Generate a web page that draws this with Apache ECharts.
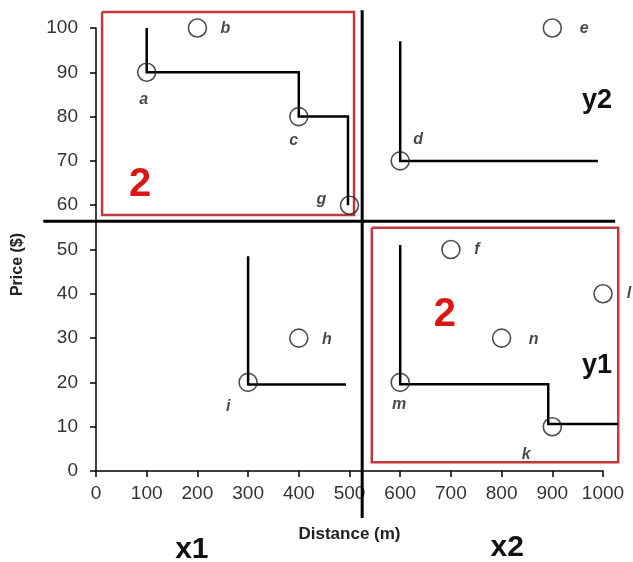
<!DOCTYPE html>
<html>
<head>
<meta charset="utf-8">
<script src="https://cdn.jsdelivr.net/npm/echarts@6/dist/echarts.min.js"></script>
<style>
html,body{margin:0;padding:0;background:#fff;}
#chart{width:633px;height:562px;}
</style>
</head>
<body>
<div id="chart"></div>
<script>
// ---- data ----
const xTicks = [0, 100, 200, 300, 400, 500, 600, 700, 800, 900, 1000];
const yTicks = [0, 10, 20, 30, 40, 50, 60, 70, 80, 90, 100];
const pointNames = ['a', 'b', 'c', 'g', 'd', 'e', 'f', 'h', 'i', 'l', 'n', 'm', 'k'];
const pointX     = [100, 200, 400, 500, 600, 900, 700, 400, 300, 1000, 800, 600, 900];
const pointY     = [90, 100, 80, 60, 70, 100, 50, 30, 20, 40, 30, 20, 10];

const stepA = [[100, 100], [100, 90], [400, 90], [400, 80], [497, 80], [497, 60]];
const stepD = [[600, 97], [600, 70], [990, 70]];
const stepI = [[300, 48.5], [300, 19.5], [493, 19.5]];
const stepM = [[600, 51], [600, 19.6], [892, 19.6], [892, 10.6], [1030, 10.6]];

const dividerV = [[525, 104], [525, -10.6]];
const dividerH = [[-104, 56.4], [1024, 56.4]];

const boxTopLeft = [12, 103.6, 509, 57.8];     // x1, yTop, x2, yBottom
const boxBottomRight = [544, 54.9, 1030, 2];

const quadrantLabels = ['x1', 'x2', 'y1', 'y2'];
const quadrantX = [189, 811, 988, 988];
const quadrantY = [-17.8, -17.4, 23.9, 83.7];
const boxLabels = ['2', '2'];
const boxLabelX = [87, 688];
const boxLabelY = [64.6, 35.2];

// ---- styling ----
const labelOffsets = {
  a: [-3, 27], b: [28, 1], c: [-5, 24], g: [-28, -6], d: [18, -21],
  e: [32, 1], f: [26, 0], h: [28, 1], i: [-20, 24], l: [26, 0],
  n: [32, 1], m: [-1, 22], k: [-26, 28]
};

function rect(b) {
  return [[b[0], b[1]], [b[2], b[1]], [b[2], b[3]], [b[0], b[3]], [b[0], b[1]]];
}
function polySeries(pts, color, width, z) {
  return {
    type: 'custom', clip: false, silent: true, z: z,
    data: [0],
    renderItem: function (params, api) {
      return {
        type: 'polyline',
        shape: { points: pts.map(p => api.coord(p)) },
        style: { stroke: color, lineWidth: width, fill: null, lineJoin: 'miter' }
      };
    }
  };
}
function textSeries(texts, xs, ys, font, color, z) {
  return {
    type: 'custom', clip: false, silent: true, z: z,
    data: texts.map((t, i) => [xs[i], ys[i]]),
    renderItem: function (params, api) {
      const c = api.coord([api.value(0), api.value(1)]);
      const t = texts[params.dataIndex];
      return {
        type: 'text', x: c[0], y: c[1],
        style: { text: t, font: typeof font === 'function' ? font(t) : font,
                 fill: color, align: 'center', verticalAlign: 'middle' }
      };
    }
  };
}

const chart = echarts.init(document.getElementById('chart'));
const option = {
  animation: false,
  grid: { left: 96, right: 30, top: 28, bottom: 91 },
  xAxis: {
    type: 'value', min: xTicks[0], max: xTicks[xTicks.length - 1], interval: 100,
    name: 'Distance (m)', nameLocation: 'middle', nameGap: 55,
    nameTextStyle: { fontFamily: 'Liberation Sans', fontWeight: 'bold', fontSize: 17, color: '#222' },
    axisLine: { lineStyle: { color: '#000', width: 1.5 } },
    axisTick: { length: 6, lineStyle: { color: '#000', width: 1.5 } },
    axisLabel: { fontFamily: 'Liberation Sans', fontSize: 19, color: '#333', margin: 13,
                 formatter: v => String(v) },
    splitLine: { show: false }
  },
  yAxis: {
    type: 'value', min: yTicks[0], max: yTicks[yTicks.length - 1], interval: 10,
    name: 'Price ($)', nameLocation: 'middle', nameGap: 70,
    nameTextStyle: { fontFamily: 'Liberation Sans', fontWeight: 'bold', fontSize: 16, color: '#222', padding: [0, 30, 0, 0] },
    axisLine: { show: true, lineStyle: { color: '#000', width: 1.5 } },
    axisTick: { show: true, length: 6, lineStyle: { color: '#000', width: 1.5 } },
    axisLabel: { fontFamily: 'Liberation Sans', fontSize: 19, color: '#333', margin: 18,
                 formatter: v => String(v) },
    splitLine: { show: false }
  },
  series: [
    polySeries(rect(boxTopLeft), '#c0393b', 2.5, 1),
    polySeries(rect(boxBottomRight), '#c0393b', 2.5, 1),
    polySeries(dividerV, '#000', 3, 2),
    polySeries(dividerH, '#000', 3, 2),
    polySeries(stepA, '#000', 2.5, 3),
    polySeries(stepD, '#000', 2.5, 3),
    polySeries(stepI, '#000', 2.5, 3),
    polySeries(stepM, '#000', 2.5, 3),
    {
      type: 'scatter', clip: false, z: 5, silent: true,
      symbol: 'circle', symbolSize: 18,
      itemStyle: { color: 'transparent', borderColor: '#222', borderWidth: 1.6 },
      data: pointNames.map((n, i) => ({
        name: n, value: [pointX[i], pointY[i]],
        label: { offset: labelOffsets[n] }
      })),
      label: {
        show: true, position: 'inside', formatter: p => p.name,
        fontFamily: 'Liberation Sans', fontStyle: 'italic', fontWeight: 'bold',
        fontSize: 16, color: '#1a1a1a'
      }
    },
    textSeries(quadrantLabels, quadrantX, quadrantY,
      t => 'bold ' + (t[0] === 'x' ? 30 : 27) + 'px "Liberation Sans"', '#111', 6),
    textSeries(boxLabels, boxLabelX, boxLabelY, 'bold 40px "Liberation Sans"', '#dd1515', 6)
  ]
};
chart.setOption(option);
</script>
</body>
</html>
